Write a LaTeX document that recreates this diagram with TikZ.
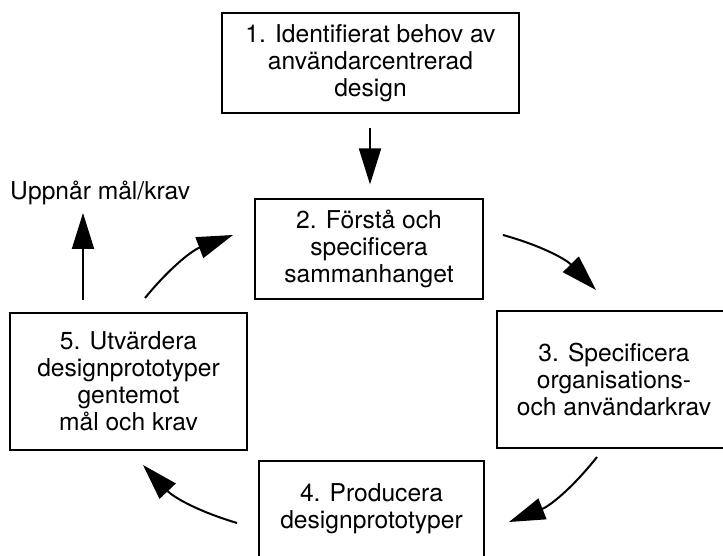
\documentclass[tikz,border=0pt]{standalone}
\usepackage{fontspec}
\setmainfont{TeX Gyre Heros}
\usetikzlibrary{arrows.meta}
\begin{document}
\begin{tikzpicture}[x=1pt,y=-1pt,
  box/.style={draw, line width=1.2pt, inner sep=0pt, align=center, font=\fontsize{24.6}{27}\selectfont},
  arr/.style={line width=2pt, -{Triangle[length=36pt,width=22pt]}},
  lbl/.style={inner sep=0pt, font=\fontsize{24.6}{27}\selectfont}]
\useasboundingbox (0,0) rectangle (723,556);
\node[box, minimum width=297pt, minimum height=100pt] (b1) at (370.5,63) {1. Identifierat behov av\\användarcentrerad\\design};
\node[box, minimum width=228pt, minimum height=100pt] (b2) at (369,249) {2. Förstå och\\specificera\\sammanhanget};
\node[box, minimum width=234pt, minimum height=137pt] (b3) at (614,379.5) {3. Specificera\\organisations-\\och användarkrav};
\node[box, minimum width=225pt, minimum height=96pt] (b4) at (371.5,509) {4. Producera\\designprototyper};
\node[box, minimum width=237pt, minimum height=137pt] (b5) at (128.5,381.5) {5. Utvärdera\\designprototyper\\gentemot\\mål och krav};
\node[lbl, anchor=base west] (goal) at (10,200) {Uppnår mål/krav};
% connectors
\draw[arr, shorten <=14pt, shorten >=14pt] (b1.south -| 370,0) -- (b2.north -| 370,0);
\coordinate (u0) at (83,300);
\coordinate (u1) at (83,213);
\draw[arr] (u0) -- (u1);
\coordinate (c52s) at (145,298);
\coordinate (c52e) at (233,235);
\draw[arr] (c52s) to[bend left=15] (c52e);
\coordinate (c23s) at (503,235);
\coordinate (c23e) at (596,290);
\draw[arr] (c23s) to[bend left=15] (c23e);
\coordinate (c34s) at (597,457);
\coordinate (c34e) at (509,522);
\draw[arr] (c34s) to[bend left=15] (c34e);
\coordinate (c45s) at (237,523);
\coordinate (c45e) at (143,465);
\draw[arr] (c45s) to[bend left=15] (c45e);
\end{tikzpicture}
\end{document}
